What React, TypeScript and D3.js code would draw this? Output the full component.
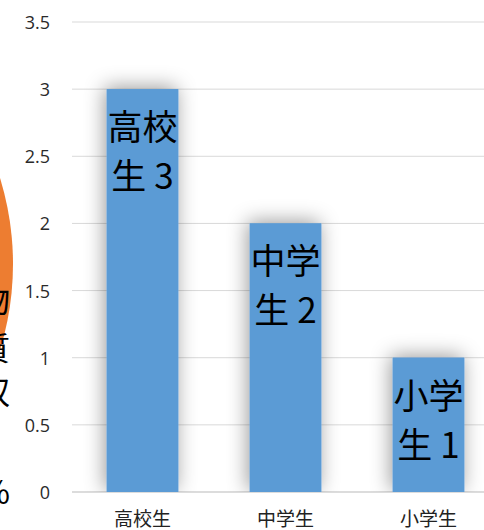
import React from "react";
import * as d3 from "d3";

const categories = ["高校生", "中学生", "小学生"];
const values = [3, 2, 1];
const labelLines = [["高校", "生 3"], ["中学", "生 2"], ["小学", "生 1"]];
const yTicks = [0, 0.5, 1, 1.5, 2, 2.5, 3, 3.5];
const sideChars = ["物", "質", "収", "%"];
const sideCharY = [298, 346, 390, 490];

const W = 484;
const H = 530;

export default function App() {
  const x = d3.scaleBand<string>().domain(categories).range([71, 500]).paddingInner(0.5).paddingOuter(0.25);
  const y = d3.scaleLinear().domain([0, 3.5]).range([492, 22]);
  const bw = x.bandwidth();
  return (
    <svg width={W} height={H} style={{ position: "absolute", left: 0, top: 0, background: "#fff" }}>
      <defs>
        <filter id="sh" x="-50%" y="-50%" width="200%" height="200%">
          <feDropShadow dx="-2" dy="-2" stdDeviation="10" floodColor="#000" floodOpacity="0.4" />
        </filter>
        <clipPath id="plotclip">
          <rect x={0} y={0} width={W} height={492} />
        </clipPath>
      </defs>
      <circle cx={-278} cy={264} r={291} fill="#ED7D31" />
      {sideChars.map((c, i) => (
        <text key={c} x={10} y={sideCharY[i]} textAnchor="end" dominantBaseline="central"
          fontFamily="Noto Sans CJK JP" fontSize={32} fill="#000">{c}</text>
      ))}
      {yTicks.map((t) => (
        <g key={t}>
          <line x1={72} x2={W} y1={y(t)} y2={y(t)} stroke={t === 0 ? "#d0d0d0" : "#d9d9d9"} strokeWidth={t === 0 ? 1.5 : 1} />
          <text x={50} y={y(t)} textAnchor="end" dominantBaseline="central"
            fontFamily="Open Sans" fontSize={18} fill="#2a2a2a">{t}</text>
        </g>
      ))}
      <g clipPath="url(#plotclip)">
        {categories.map((c, i) => (
          <rect key={c} x={x(c)} y={y(values[i])} width={bw} height={y(0) - y(values[i])}
            fill="#5B9BD5" filter="url(#sh)" />
        ))}
      </g>
      {categories.map((c, i) => (
        <rect key={c + "r"} x={x(c)} y={y(values[i])} width={bw} height={y(0) - y(values[i])} fill="#5B9BD5" />
      ))}
      {categories.map((c, i) => (
        <text key={c + "l"} textAnchor="middle" fontFamily="Noto Sans CJK JP" fontSize={35} fill="#000">
          {labelLines[i].map((ln, j) => (
            <tspan key={j} x={(x(c) ?? 0) + bw / 2} y={y(values[i]) + 51 + j * 49}>{ln}</tspan>
          ))}
        </text>
      ))}
      {categories.map((c) => (
        <text key={c + "c"} x={(x(c) ?? 0) + bw / 2} y={526} textAnchor="middle"
          fontFamily="Noto Sans CJK JP" fontSize={19} fill="#222">{c}</text>
      ))}
    </svg>
  );
}
